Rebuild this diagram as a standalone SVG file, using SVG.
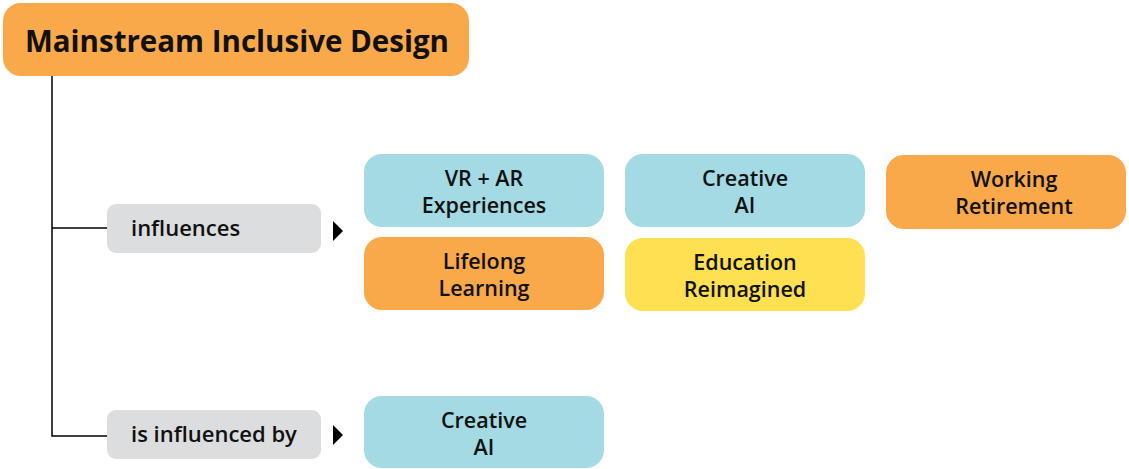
<svg xmlns="http://www.w3.org/2000/svg" width="1129" height="469" viewBox="0 0 1129 469">
<style>
text{font-family:"Open Sans","Noto Sans","Liberation Sans",sans-serif;font-weight:600;fill:#111;}
.n text{font-size:21.5px;text-anchor:middle;}
.orange{fill:#F9A84A;}
.blue{fill:#A3DAE3;}
.yellow{fill:#FEE050;}
.gray{fill:#DCDDDF;}
.conn{stroke:#000;stroke-width:1.5;fill:none;}
</style>
<rect width="1129" height="469" fill="#fff"/>
<g id="connectors">
<path class="conn" d="M52 76 V436 H107 M52 228 H107"/>
<polygon points="333,221 343,231 333,241" fill="#000"/>
<polygon points="333,425 343,435 333,445" fill="#000"/>
</g>
<g id="root">
<rect class="orange" x="3" y="3" width="466" height="73" rx="18"/>
<text x="237" y="52" style="font-size:29.5px;font-weight:700;text-anchor:middle">Mainstream Inclusive Design</text>
</g>
<g id="rel-influences">
<rect class="gray" x="107" y="204" width="214" height="49" rx="9"/>
<text x="131" y="236" style="font-size:22px">influences</text>
</g>
<g id="rel-influenced-by">
<rect class="gray" x="107" y="410" width="214" height="49" rx="9"/>
<text x="131" y="442" style="font-size:22px">is influenced by</text>
</g>
<g id="vr-ar" class="n">
<rect class="blue" x="364" y="154" width="240" height="73" rx="18"/>
<text x="484" y="186">VR + AR</text>
<text x="484" y="213">Experiences</text>
</g>
<g id="creative-ai-1" class="n">
<rect class="blue" x="625" y="154" width="240" height="73" rx="18"/>
<text x="745" y="186">Creative</text>
<text x="745" y="213">AI</text>
</g>
<g id="working-retirement" class="n">
<rect class="orange" x="886" y="155" width="240" height="74" rx="18"/>
<text x="1014" y="187">Working</text>
<text x="1014" y="214">Retirement</text>
</g>
<g id="lifelong-learning" class="n">
<rect class="orange" x="364" y="237" width="240" height="73" rx="18"/>
<text x="484" y="269">Lifelong</text>
<text x="484" y="296">Learning</text>
</g>
<g id="education-reimagined" class="n">
<rect class="yellow" x="625" y="238" width="240" height="73" rx="18"/>
<text x="745" y="270">Education</text>
<text x="745" y="297">Reimagined</text>
</g>
<g id="creative-ai-2" class="n">
<rect class="blue" x="364" y="396" width="240" height="72" rx="18"/>
<text x="484" y="428">Creative</text>
<text x="484" y="455">AI</text>
</g>
</svg>
